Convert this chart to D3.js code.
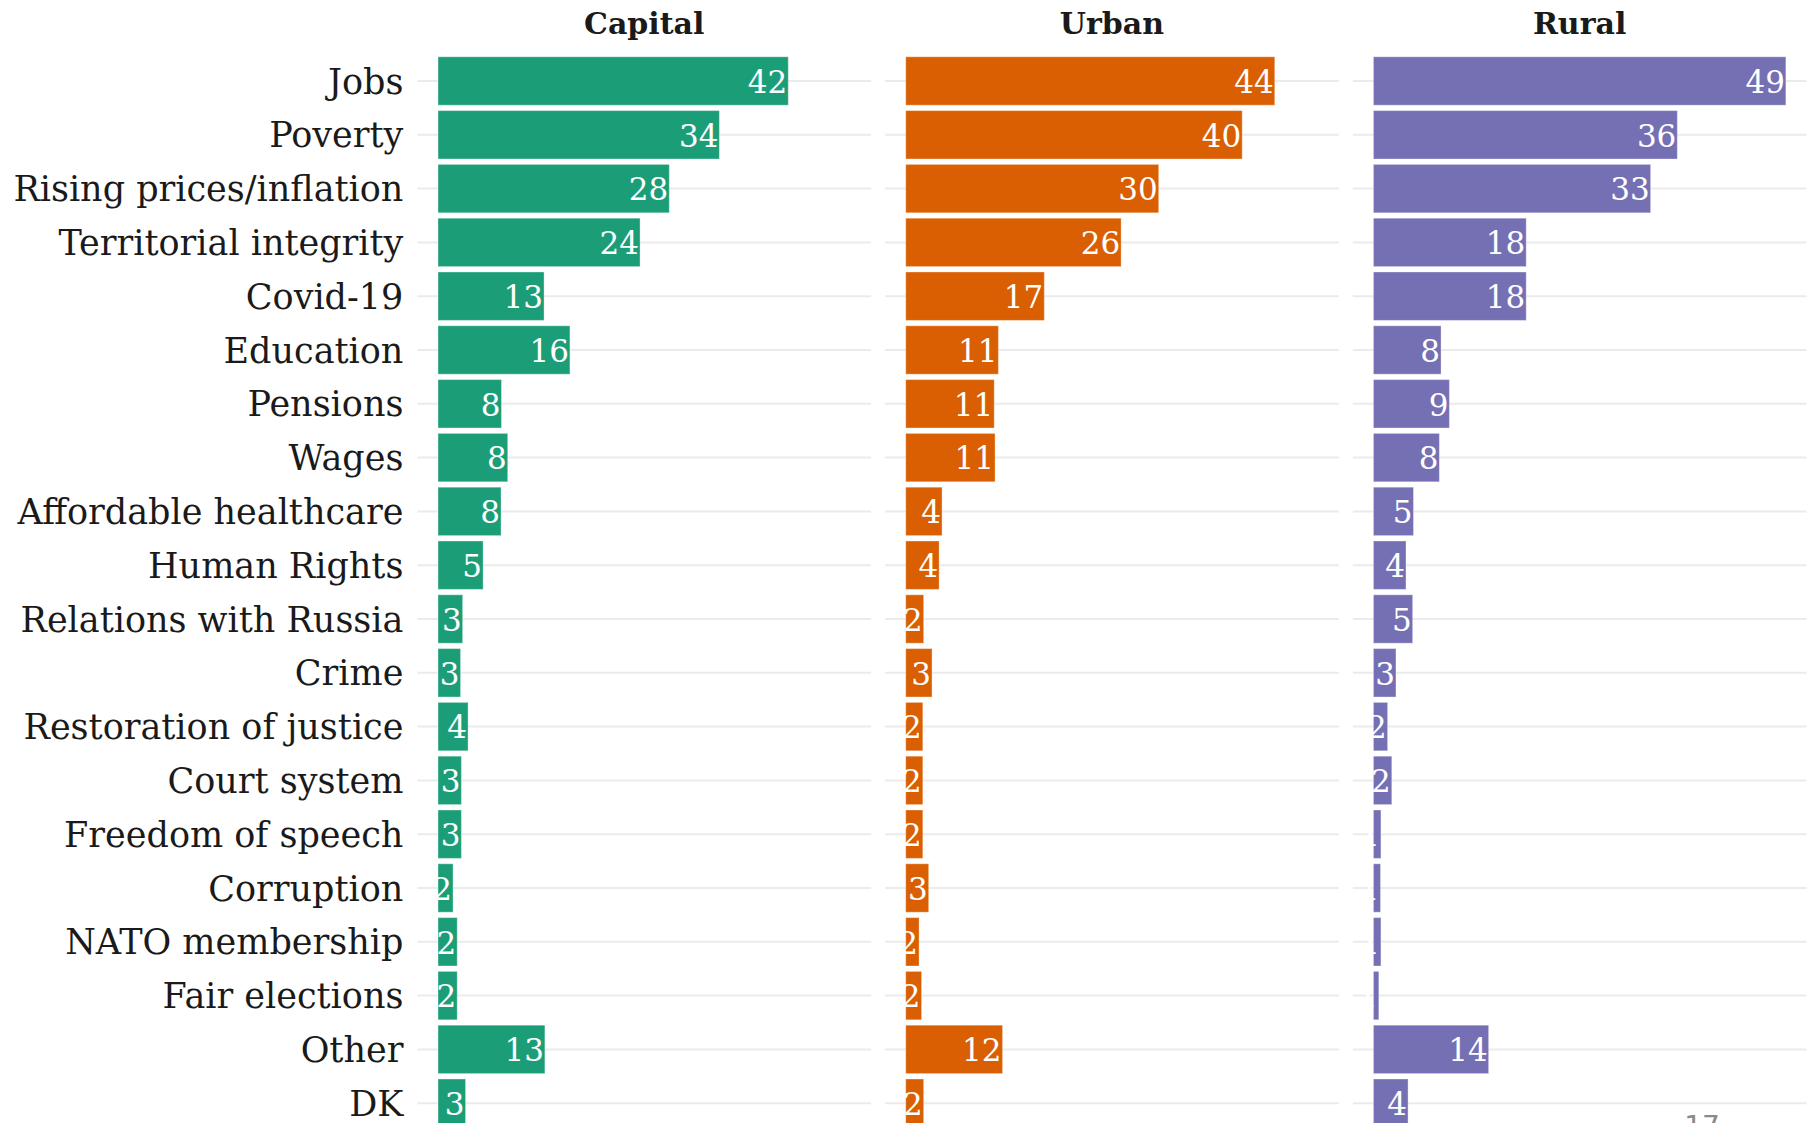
<!DOCTYPE html>
<html>
<head>
<meta charset="utf-8">
<script src="https://cdn.jsdelivr.net/npm/d3@7"></script>
<style>
  body { margin: 0; background: #fff; }
  svg { display: block; }
</style>
</head>
<body>
<div id="chart"></div>
<script>

// issues, top to bottom
var categories = ["Jobs", "Poverty", "Rising prices/inflation", "Territorial integrity", "Covid-19",
  "Education", "Pensions", "Wages", "Affordable healthcare", "Human Rights", "Relations with Russia",
  "Crime", "Restoration of justice", "Court system", "Freedom of speech", "Corruption",
  "NATO membership", "Fair elections", "Other", "DK"];

var panels = ["Capital", "Urban", "Rural"];

var capital_vals = [41.95, 33.7, 27.7, 24.2, 12.7, 15.8, 7.6, 8.35, 7.55, 5.4, 2.95, 2.7, 3.6, 2.8, 2.8, 1.8, 2.3, 2.3, 12.8, 3.3];
var urban_vals   = [44.2, 40.3, 30.3, 25.8, 16.6, 11.1, 10.6, 10.7, 4.35, 4.0, 2.15, 3.15, 2.05, 2.05, 2.05, 2.75, 1.6, 1.9, 11.6, 2.15];
var rural_vals   = [49.4, 36.4, 33.2, 18.3, 18.3, 8.1, 9.1, 7.9, 4.8, 3.9, 4.7, 2.7, 1.7, 2.2, 0.9, 0.85, 0.9, 0.65, 13.8, 4.15];

var panel_colors = ["#1b9e77", "#d95f02", "#7570b3"];
var page_number = "17";

var width = 1810, height = 1123;
var font = "'DejaVu Serif', serif";

var svg = d3.select("#chart")
  .append("svg")
  .attr("width", width)
  .attr("height", height);

var series = [capital_vals, urban_vals, rural_vals];
var max_val = d3.max(series, s => d3.max(s));

var panel_left = 417.4, panel_w = 453.7, panel_gap = 14;
var step = 53.8;
var first_center = 81;

// ggplot-like expansion: 5% on x
var x = d3.scaleLinear()
  .domain([-0.05 * max_val, 1.05 * max_val])
  .range([0, panel_w]);

var y = d3.scaleBand()
  .domain(categories)
  .range([first_center - step / 2, first_center - step / 2 + step * categories.length])
  .paddingInner(0.1)
  .paddingOuter(0.05);

// category labels
svg.append("g")
  .selectAll("text")
  .data(categories)
  .enter()
  .append("text")
    .attr("x", panel_left - 14)
    .attr("y", d => y(d) + y.bandwidth() / 2)
    .attr("dy", "0.36em")
    .attr("text-anchor", "end")
    .style("font-family", font)
    .style("font-size", "35px")
    .style("fill", "#1a1a1a")
    .text(d => d);

panels.forEach(function(name, i) {

  var g = svg.append("g")
    .attr("transform", "translate(" + (panel_left + i * (panel_w + panel_gap)) + ",0)");

  g.append("g")
    .selectAll("line")
    .data(categories)
    .enter()
    .append("line")
      .attr("x1", 0)
      .attr("x2", panel_w)
      .attr("y1", d => y(d) + y.bandwidth() / 2)
      .attr("y2", d => y(d) + y.bandwidth() / 2)
      .attr("stroke", "#ebebeb")
      .attr("stroke-width", 2);

  var rows = categories.map((c, j) => ({cat: c, val: series[i][j]}));

  g.append("g")
    .selectAll("rect")
    .data(rows)
    .enter()
    .append("rect")
      .attr("x", x(0))
      .attr("y", d => y(d.cat))
      .attr("width", d => x(d.val) - x(0))
      .attr("height", y.bandwidth())
      .attr("fill", panel_colors[i])
      .attr("stroke", "#ffffff")
      .attr("stroke-opacity", 0.35)
      .attr("stroke-width", 1);

  g.append("g")
    .selectAll("text")
    .data(rows)
    .enter()
    .append("text")
      .attr("x", d => x(d.val) - 1)
      .attr("y", d => y(d.cat) + y.bandwidth() / 2)
      .attr("dy", "0.38em")
      .attr("text-anchor", "end")
      .style("font-family", font)
      .style("font-size", "31px")
      .style("fill", "#ffffff")
      .text(d => Math.round(d.val));

  g.append("text")
    .attr("x", panel_w / 2)
    .attr("y", 34)
    .attr("text-anchor", "middle")
    .style("font-family", font)
    .style("font-weight", "bold")
    .style("font-size", "30px")
    .style("fill", "#1a1a1a")
    .text(name);
});

svg.append("text")
  .attr("x", 1702)
  .attr("y", 1136)
  .attr("text-anchor", "middle")
  .style("font-family", "'DejaVu Sans', sans-serif")
  .style("font-size", "28px")
  .style("fill", "#8a8a8a")
  .text(page_number);

</script>
</body>
</html>
